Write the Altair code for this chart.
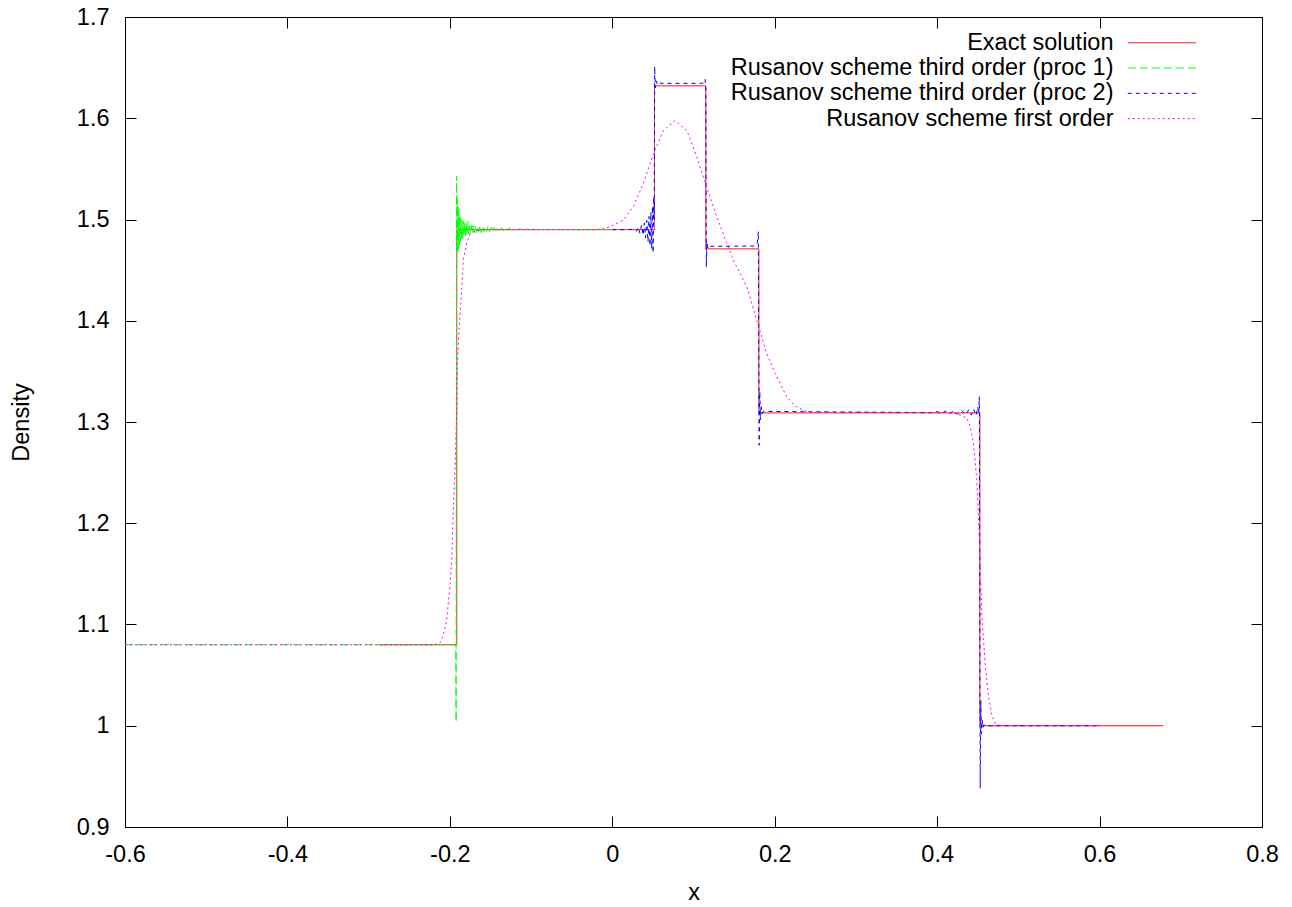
import altair as alt
import pandas as pd

series_names = [
    "Exact solution",
    "Rusanov scheme third order (proc 1)",
    "Rusanov scheme third order (proc 2)",
    "Rusanov scheme first order",
]
series_colors = ["#ff0000", "#00ff00", "#0000ff", "#ff00ff"]
series_dash = [[1, 0], [8, 4], [4, 4], [2, 3]]

x_ticks = [-0.6, -0.4, -0.2, 0.0, 0.2, 0.4, 0.6, 0.8]
y_ticks = [0.9, 1.0, 1.1, 1.2, 1.3, 1.4, 1.5, 1.6, 1.7]

exact_x = [-0.2863, -0.1915, -0.1915, 0.052, 0.052, 0.1152, 0.1152, 0.1805, 0.1805, 0.4526, 0.4526, 0.6785]
exact_y = [1.08, 1.08, 1.49, 1.49, 1.632, 1.632, 1.471, 1.471, 1.309, 1.309, 1.0, 1.0]

proc1_x = [-0.6, -0.1935, -0.1927, -0.1923, -0.1917, -0.1912, -0.1908, -0.1903, -0.1899, -0.1894,
           -0.1889, -0.1884, -0.1878, -0.1872, -0.1865, -0.1858, -0.1850, -0.1842, -0.1834, -0.1826,
           -0.1817, -0.1808, -0.1799, -0.1789, -0.1779, -0.1769, -0.1758, -0.1747, -0.1736, -0.1724,
           -0.1712, -0.1699, -0.1686, -0.1672, -0.1658, -0.1644, -0.1629, -0.1614, -0.1598, -0.1582,
           -0.1565, -0.1548, -0.1530, -0.1512, -0.1493, -0.1473, -0.1453, -0.1432, -0.1410, -0.1388,
           -0.1365, -0.1341, -0.1316, -0.1290, -0.1263, -0.1235, -0.1205, -0.1174, -0.1140, -0.1104,
           -0.1065, -0.1020, -0.0970, -0.0900, -0.0800, -0.0600, -0.0300, 0.0]
proc1_y = [1.08, 1.08, 1.076, 1.004, 1.543, 1.468, 1.521, 1.466, 1.514, 1.471,
           1.508, 1.475, 1.505, 1.478, 1.501, 1.480, 1.499, 1.481, 1.498, 1.483,
           1.497, 1.484, 1.496, 1.485, 1.498, 1.486, 1.495, 1.486, 1.494, 1.487,
           1.494, 1.487, 1.494, 1.487, 1.493, 1.488, 1.494, 1.487, 1.493, 1.488,
           1.493, 1.488, 1.493, 1.488, 1.492, 1.488, 1.492, 1.489, 1.492, 1.489,
           1.492, 1.489, 1.4915, 1.4895, 1.4915, 1.4895, 1.491, 1.4895, 1.491, 1.4898,
           1.4908, 1.4898, 1.4905, 1.490, 1.4903, 1.490, 1.490, 1.490]

proc2_x = [0.0, 0.020, 0.027, 0.030, 0.032, 0.034, 0.036, 0.038, 0.0395, 0.041,
           0.0425, 0.044, 0.0452, 0.0464, 0.0475, 0.0485, 0.0495, 0.0503, 0.0510, 0.0516,
           0.0522, 0.0530, 0.0540, 0.0555, 0.0570, 0.0600, 0.1100, 0.1130, 0.1143, 0.1150,
           0.1158, 0.1166, 0.1175, 0.1190, 0.1210, 0.1760, 0.1785, 0.1798, 0.1808, 0.1816,
           0.1824, 0.1833, 0.1845, 0.1860, 0.3950, 0.4000, 0.4050, 0.4100, 0.4150, 0.4200,
           0.4250, 0.4300, 0.4350, 0.4390, 0.4420, 0.4450, 0.4480, 0.4500, 0.4512, 0.4520,
           0.4530, 0.4538, 0.4546, 0.4554, 0.4562, 0.4575, 0.4600, 0.6000]
proc2_y = [1.490, 1.490, 1.4905, 1.4885, 1.4925, 1.4865, 1.4945, 1.4845, 1.4965, 1.482,
           1.499, 1.478, 1.503, 1.474, 1.507, 1.471, 1.513, 1.467, 1.522, 1.50,
           1.651, 1.630, 1.637, 1.6335, 1.6355, 1.6345, 1.6345, 1.6350, 1.6385, 1.630,
           1.453, 1.478, 1.4720, 1.4745, 1.4735, 1.4738, 1.4765, 1.488, 1.277, 1.330,
           1.302, 1.315, 1.308, 1.3105, 1.3092, 1.3105, 1.3080, 1.3108, 1.3078, 1.3110,
           1.3075, 1.3115, 1.3072, 1.3120, 1.3068, 1.3125, 1.3062, 1.3150, 1.3080, 1.3250,
           0.938, 1.025, 0.992, 1.006, 0.998, 1.001, 1.000, 1.000]

first_x = [-0.6, -0.225, -0.215, -0.212, -0.208, -0.204, -0.200, -0.1977, -0.1957, -0.1936,
           -0.1915, -0.1905, -0.1880, -0.1855, -0.1835, -0.1790, -0.1750, -0.1680, -0.1600, -0.0200,
           -0.0110, -0.0027, 0.0137, 0.0260, 0.0384, 0.0507, 0.0630, 0.0773, 0.0917, 0.1040,
           0.1145, 0.1286, 0.1409, 0.1490, 0.1655, 0.1778, 0.1900, 0.2005, 0.2148, 0.2250,
           0.2370, 0.2500, 0.4200, 0.4365, 0.4406, 0.4447, 0.4488, 0.4508, 0.4530, 0.4550,
           0.4590, 0.4632, 0.4675, 0.4715, 0.4780, 0.6000]
first_y = [1.08, 1.08, 1.0805, 1.082, 1.090, 1.104, 1.137, 1.163, 1.213, 1.256,
           1.312, 1.361, 1.400, 1.430, 1.460, 1.477, 1.486, 1.489, 1.490, 1.490,
           1.491, 1.493, 1.4995, 1.513, 1.536, 1.565, 1.588, 1.5976, 1.588, 1.562,
           1.536, 1.5028, 1.4765, 1.460, 1.4337, 1.401, 1.368, 1.348, 1.325, 1.316,
           1.311, 1.3095, 1.3095, 1.304, 1.296, 1.279, 1.243, 1.210, 1.160, 1.111,
           1.062, 1.029, 1.010, 1.0026, 1.000, 1.000]

all_x = [exact_x, proc1_x, proc2_x, first_x]
all_y = [exact_y, proc1_y, proc2_y, first_y]
for xs, ys in zip(all_x, all_y):
    assert len(xs) == len(ys), (len(xs), len(ys))

rows = []
for name, xs, ys in zip(series_names, all_x, all_y):
    for i, (a, b) in enumerate(zip(xs, ys)):
        rows.append({"series": name, "x": a, "y": b, "i": i})
df = pd.DataFrame(rows)

FONT = "Liberation Sans"
FS = 23.5
HYPHEN_LABEL = "datum.value < 0 ? '-' + format(-datum.value, '~g') : format(datum.value, '~g')"

xscale = alt.Scale(domain=[-0.6, 0.8], nice=False, zero=False)
yscale = alt.Scale(domain=[0.9, 1.7], nice=False, zero=False)

# legend sample: a horizontal path 4x the symbol's nominal size (17 px -> 68 px long)
legend = alt.Legend(
    title=None,
    orient="none",
    legendX=1025,
    legendY=14,
    padding=0,
    symbolType="M-4,0H4",
    symbolSize=289,
    symbolStrokeWidth=1,
    symbolOpacity=1,
    symbolFillColor="transparent",
    labelAlign="right",
    labelOffset={"expr": "-60"},
    labelFont=FONT,
    labelFontSize=FS,
    labelColor="black",
    labelLimit=0,
    rowPadding=0.3,
)

lines = alt.Chart(df).mark_line(strokeWidth=1, clip=True).encode(
    x=alt.X(
        "x:Q",
        scale=xscale,
        axis=alt.Axis(
            orient="bottom", values=x_ticks, labelExpr=HYPHEN_LABEL, offset=-11, tickSize=11,
            domain=False, grid=False, labelPadding=15, labelFlush=False,
            title="x", titleY=76, titleBaseline="middle",
        ),
    ),
    y=alt.Y(
        "y:Q",
        scale=yscale,
        axis=alt.Axis(
            orient="left", values=y_ticks, labelExpr=HYPHEN_LABEL, offset=-11, tickSize=11,
            domain=False, grid=False, labelPadding=16, labelFlush=False,
            title="Density", titleX=-115, titleY=405, titleBaseline="middle", titleAngle=270,
        ),
    ),
    color=alt.Color("series:N", scale=alt.Scale(domain=series_names, range=series_colors), legend=legend),
    strokeDash=alt.StrokeDash("series:N", scale=alt.Scale(domain=series_names, range=series_dash), legend=legend),
    order=alt.Order("i:Q"),
)

mirror = alt.Chart(df).mark_point(opacity=0).encode(
    x=alt.X(
        "x:Q",
        scale=xscale,
        axis=alt.Axis(
            orient="top", values=x_ticks, labels=False, offset=-11, tickSize=11,
            domain=False, grid=False, title=None,
        ),
    ),
    y=alt.Y(
        "y:Q",
        scale=yscale,
        axis=alt.Axis(
            orient="right", values=y_ticks, labels=False, offset=-11, tickSize=11,
            domain=False, grid=False, title=None,
        ),
    ),
)

chart = (
    alt.layer(lines, mirror)
    .resolve_axis(x="independent", y="independent")
    .properties(
        width=1137,
        height=810,
        autosize=alt.AutoSizeParams(type="none"),
        padding={"left": 125, "top": 17, "right": 30, "bottom": 80},
        background="white",
    )
    .configure_view(stroke="black", strokeWidth=1)
    .configure_axis(
        labelFont=FONT, labelFontSize=FS, labelColor="black",
        titleFont=FONT, titleFontSize=FS, titleFontWeight="normal", titleColor="black",
        tickColor="black", tickWidth=1,
    )
)

chart.save("out.html", embed_options={"renderer": "svg", "actions": False})
